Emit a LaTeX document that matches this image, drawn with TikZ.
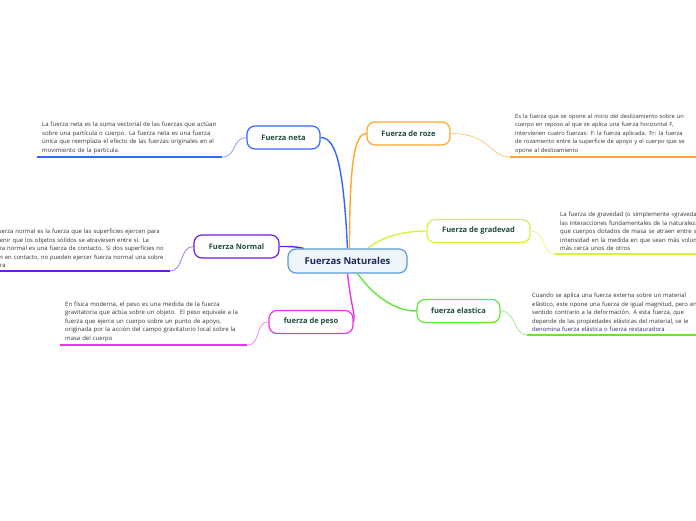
\documentclass[tikz,border=0pt]{standalone}
\usepackage{fontspec}
\setmainfont{Open Sans}
\usetikzlibrary{positioning,calc,backgrounds}
\definecolor{cneta}{HTML}{3366FF}
\definecolor{croze}{HTML}{FFA62B}
\definecolor{cgrav}{HTML}{D9F23C}
\definecolor{cnormal}{HTML}{6A1BEA}
\definecolor{celast}{HTML}{5EE83A}
\definecolor{cpeso}{HTML}{E935E9}
\definecolor{titlegreen}{HTML}{1B4D3E}
\definecolor{navy}{HTML}{1A2A57}
\definecolor{txtgrey}{HTML}{333333}
\definecolor{cfill}{HTML}{EEF5FB}
\definecolor{cborder}{HTML}{5B9BD5}

\begin{document}
\begin{tikzpicture}[x=1pt, y=-1pt,
  bnode/.style={rectangle, draw=#1, line width=1.2pt, fill=white, rounded corners=8pt, minimum height=23pt, inner xsep=6pt, font=\fontsize{7.5}{9}\selectfont\bfseries, text=titlegreen},
  tnode/.style={inner xsep=5pt, inner ysep=3pt, text width=#1, align=left, font=\fontsize{6}{8.5}\selectfont, text=txtgrey},
  tnode/.default=177pt,
  uline/.style={line width=1.8pt, draw=#1},
  thin link/.style={line width=0.8pt, draw=#1!60},
  main link/.style={line width=1.4pt, draw=#1}
]
  \useasboundingbox (0,0) rectangle (696,520);

  % central topic
  \node[rectangle, draw=cborder, line width=1.2pt, fill=cfill, rounded corners=8pt, minimum width=119pt, minimum height=24pt, font=\fontsize{9.5}{11}\selectfont\bfseries, text=navy] (fn) at (347.5,261) {Fuerzas Naturales};

  % main branches
  \node[bnode=cneta, minimum width=73pt] (neta) at (283.5,137.5) {Fuerza neta};
  \node[bnode=croze, minimum width=83pt] (roze) at (408.5,133.5) {Fuerza de roze};
  \node[bnode=cgrav, minimum width=103pt] (grav) at (478.5,231) {Fuerza de gradevad};
  \node[bnode=cnormal, minimum width=85pt] (normal) at (236.5,246.5) {Fuerza Normal};
  \node[bnode=celast, minimum width=83pt] (elast) at (458.5,311) {fuerza elastica};
  \node[bnode=cpeso, minimum width=84pt] (peso) at (311,322) {fuerza de peso};

  % notes
  \node[tnode=175pt, anchor=south west] (netatxt) at (37,157) {La fuerza neta es la suma vectorial de las fuerzas que actúan\\sobre una partícula o cuerpo. La fuerza neta es una fuerza\\única que reemplaza el efecto de las fuerzas originales en el\\movimiento de la partícula.};
  \node[tnode=181pt, anchor=south west, font=\fontsize{5.75}{8.5}\selectfont] (rozetxt) at (510,157) {Es la fuerza que se opone al inicio del deslizamiento sobre un\\cuerpo en reposo al que se aplica una fuerza horizontal F,\\intervienen cuatro fuerzas: F: la fuerza aplicada. Fr: la fuerza\\de rozamiento entre la superficie de apoyo y el cuerpo que se\\opone al deslizamiento};
  \node[tnode=190pt, anchor=south west] (gravtxt) at (555,254) {La fuerza de gravedad (o simplemente «gravedad») es una de\\las interacciones fundamentales de la naturaleza, que hace\\que cuerpos dotados de masa se atraen entre sí con mayor\\intensidad en la medida en que sean más voluminosos o estén\\más cerca unos de otros};
  \node[tnode=177pt, anchor=south east, font=\fontsize{5.9}{8.5}\selectfont] (normaltxt) at (170,271) {\mbox{La fuerza normal es la fuerza que las superficies ejercen para}\\\mbox{prevenir que los objetos sólidos se atraviesen entre sí. La}\\\mbox{fuerza normal es una fuerza de contacto. Si dos superficies no}\\\mbox{están en contacto, no pueden ejercer fuerza normal una sobre}\\la otra};
  \node[tnode=170pt, anchor=south west, font=\fontsize{5.9}{8.5}\selectfont] (elasttxt) at (527,335) {Cuando se aplica una fuerza externa sobre un material\\elástico, este opone una fuerza de igual magnitud, pero en\\sentido contrario a la deformación. A esta fuerza, que\\depende de las propiedades elásticas del material, se le\\denomina fuerza elástica o fuerza restauradora};
  \node[tnode=177pt, anchor=south west] (pesotxt) at (60,345) {En física moderna, el peso es una medida de la fuerza\\gravitatoria que actúa sobre un objeto.\ \ El peso equivale a la\\fuerza que ejerce un cuerpo sobre un punto de apoyo,\\originada por la acción del campo gravitatorio local sobre la\\masa del cuerpo};

  \begin{scope}[on background layer]
    \fill[white] (0,0) rectangle (696,520);
    % links from the centre
    \draw[main link=cneta] (fn.north) .. controls +(-4,-80) and +(16,0) .. (neta.east);
    \draw[main link=croze] ([xshift=2pt]fn.north) .. controls +(0,-85) and +(-12,0) .. (roze.west);
    \draw[main link=cgrav] ([xshift=20pt]fn.north) .. controls +(18,-14) and +(-18,0) .. (grav.west);
    \draw[main link=cnormal] ([xshift=-44pt]fn.north) .. controls +(-8,-2) and +(10,0) .. (normal.east);
    \draw[main link=celast] ([xshift=10pt]fn.south) .. controls +(16,22) and +(-22,0) .. (elast.west);
    \draw[main link=cpeso] (fn.south) .. controls +(4,36) and +(2,-8) .. (peso.east);
    % links to the notes
    \draw[thin link=cneta] (neta.west) .. controls +(-14,0) and +(14,0) .. (netatxt.south east);
    \draw[thin link=croze] (roze.east) .. controls +(40,0) and +(-20,0) .. (rozetxt.south west);
    \draw[thin link=cgrav] (grav.east) .. controls +(16,0) and +(-14,0) .. (gravtxt.south west);
    \draw[thin link=cnormal] (normal.west) .. controls +(-14,0) and +(14,0) .. (normaltxt.south east);
    \draw[thin link=celast] (elast.east) .. controls +(16,0) and +(-14,0) .. (elasttxt.south west);
    \draw[thin link=cpeso] (peso.west) .. controls +(-14,0) and +(14,0) .. (pesotxt.south east);
    % underlines
    \draw[uline=cneta] (netatxt.south west) -- (netatxt.south east);
    \draw[uline=croze] (rozetxt.south west) -- (rozetxt.south east);
    \draw[uline=cgrav] (gravtxt.south west) -- (gravtxt.south east);
    \draw[uline=cnormal] (normaltxt.south west) -- (normaltxt.south east);
    \draw[uline=celast] (elasttxt.south west) -- (elasttxt.south east);
    \draw[uline=cpeso] (pesotxt.south west) -- (pesotxt.south east);
  \end{scope}
\end{tikzpicture}
\end{document}
